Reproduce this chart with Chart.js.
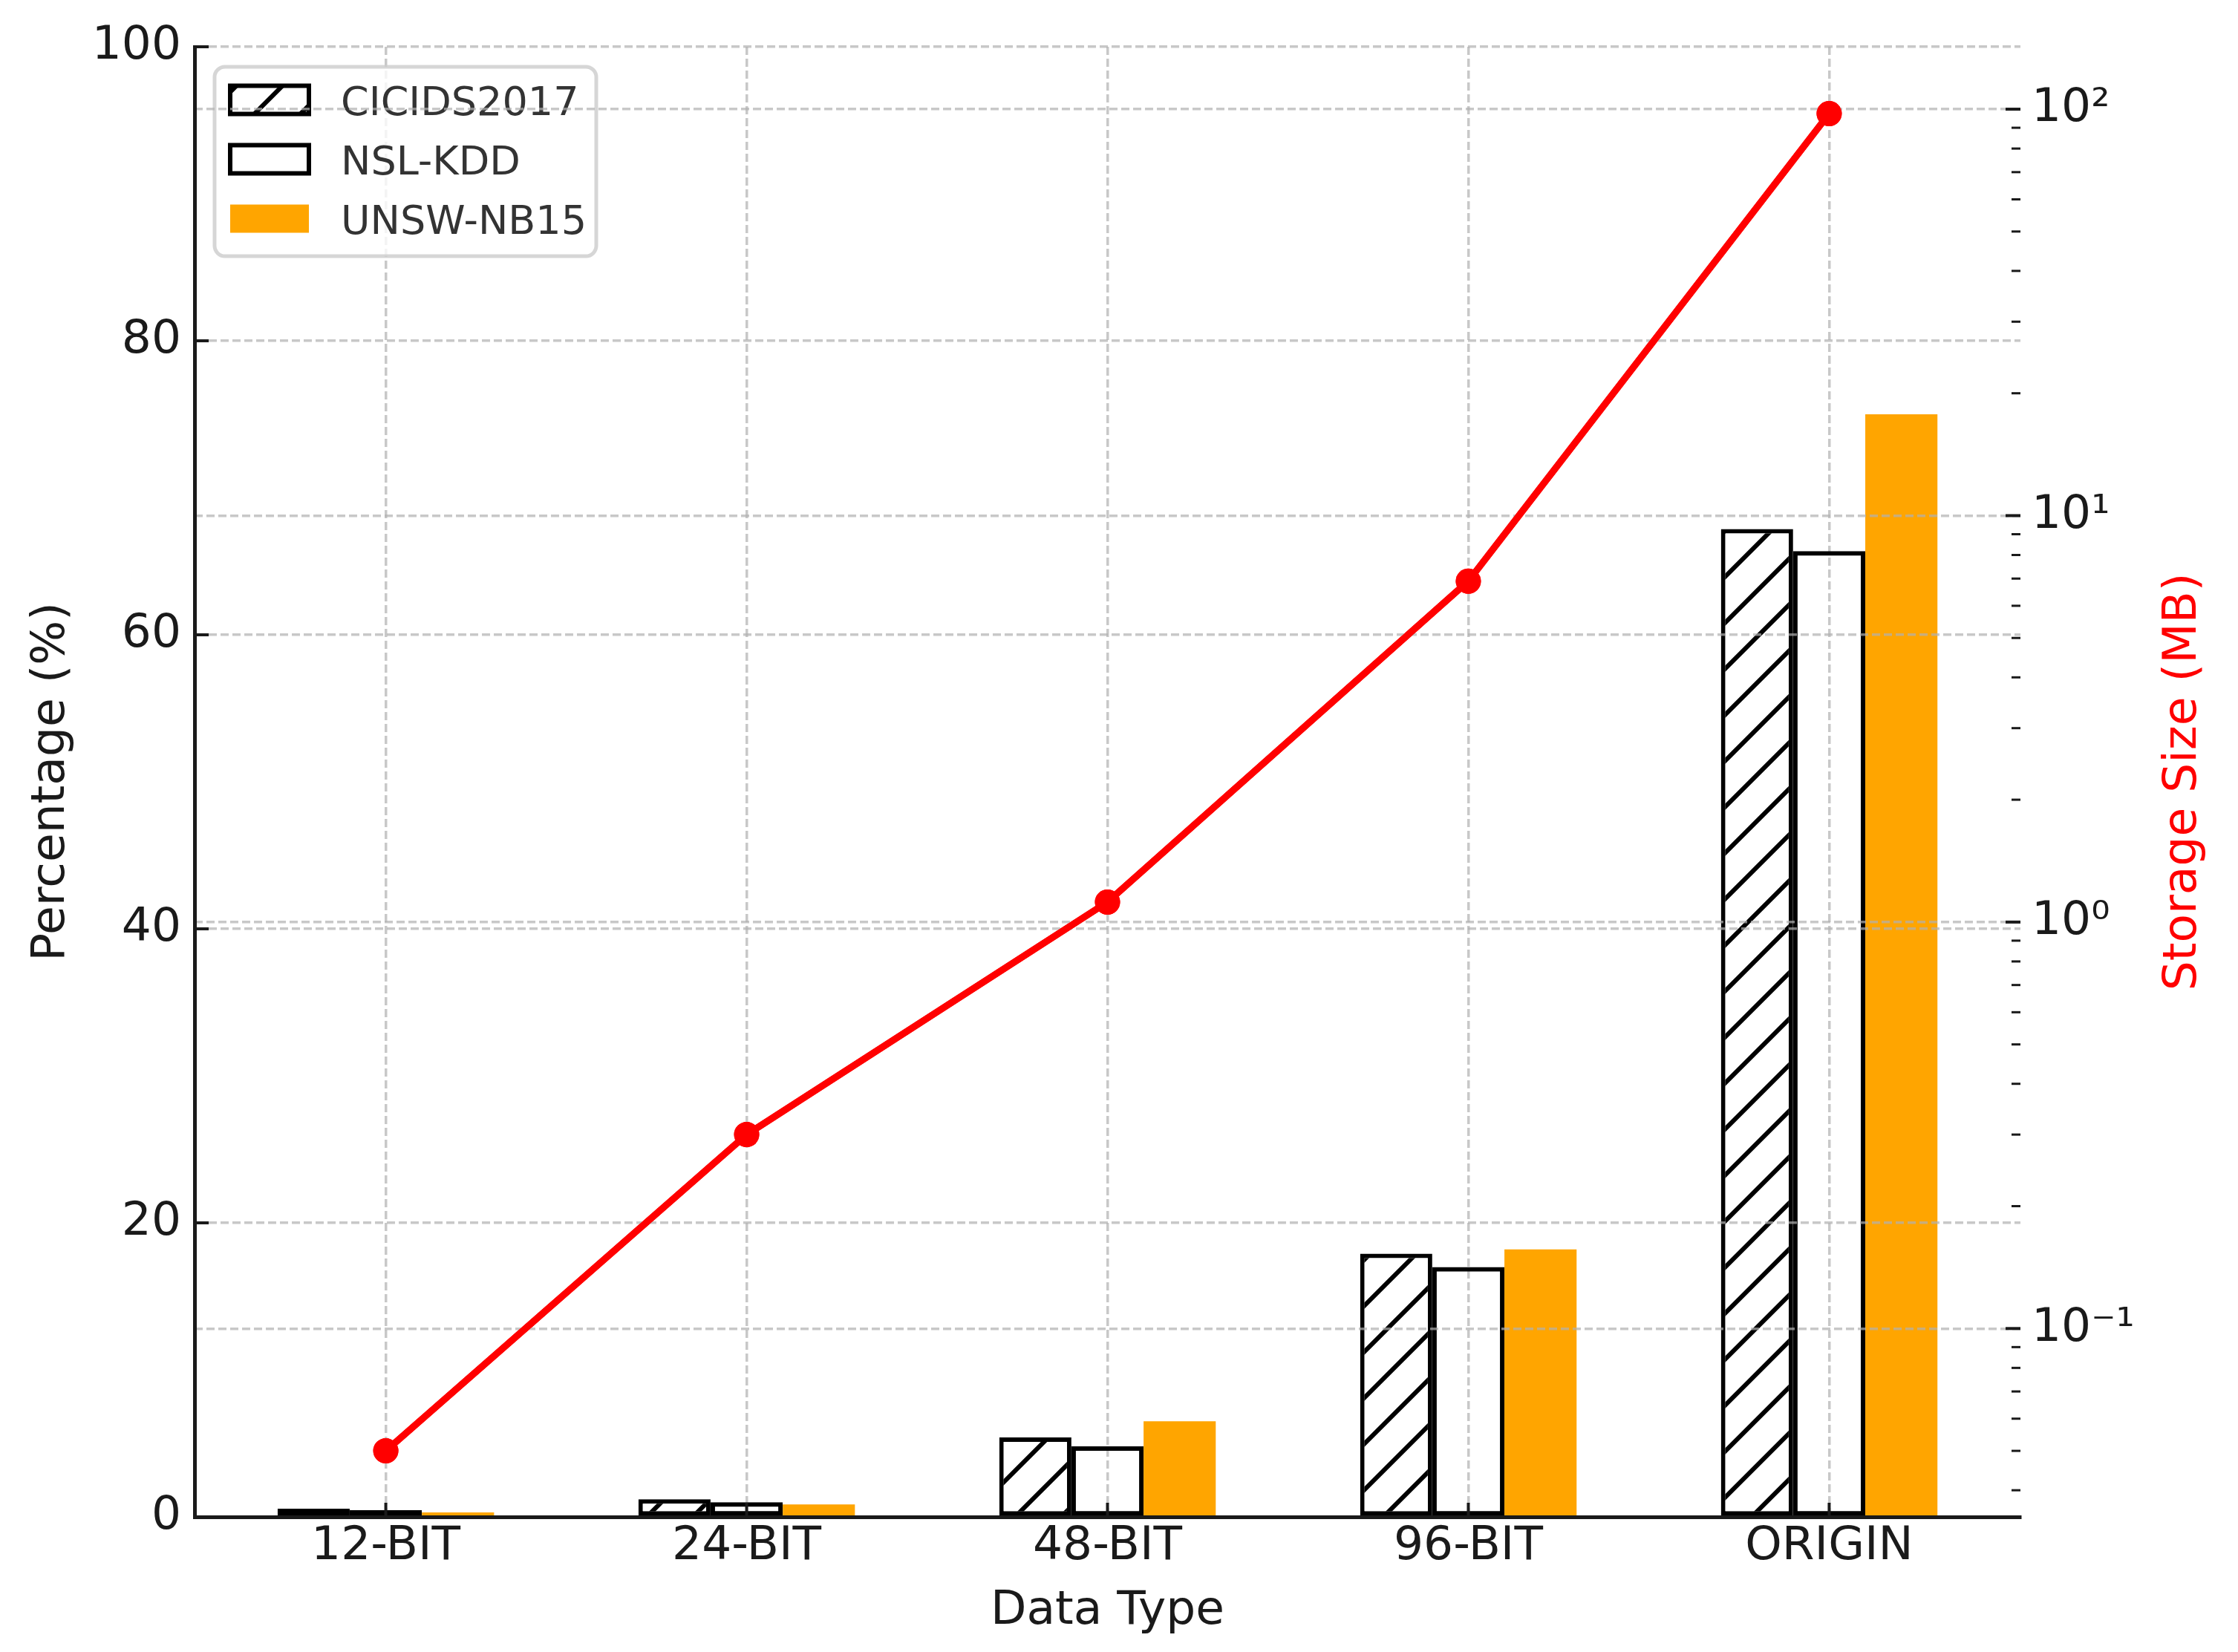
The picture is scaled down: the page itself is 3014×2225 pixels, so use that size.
<!DOCTYPE html>
<html>
<head>
<meta charset="utf-8">
<title>Percentage and storage size by data type</title>
<script src="https://cdn.jsdelivr.net/npm/chart.js"></script>
<style>
  html, body { margin: 0; padding: 0; background: #ffffff; }
  #wrap { width: 3014px; height: 2225px; }
</style>
</head>
<body>
<div id="wrap"><canvas id="chart" width="3014" height="2225"></canvas></div>
<script>
// ── Data ──
const categories = ['12-BIT', '24-BIT', '48-BIT', '96-BIT', 'ORIGIN'];
const seriesNames = ['CICIDS2017', 'NSL-KDD', 'UNSW-NB15'];
const cicids2017 = [0.55, 1.2, 5.4, 17.9, 67.2];
const nslKdd = [0.45, 1.0, 4.8, 17.0, 65.7];
const unswNb15 = [0.3, 0.85, 6.5, 18.2, 75.0];
const storageMb = [0.05, 0.3, 1.12, 6.9, 97.5];

const storageMajorTicks = [0.1, 1, 10, 100];
const storageTickLabels = ['10\u207B\u00B9', '10\u2070', '10\u00B9', '10\u00B2'];
const storageMinorTicks = [0.04, 0.05, 0.06, 0.07, 0.08, 0.09,
  0.2, 0.3, 0.4, 0.5, 0.6, 0.7, 0.8, 0.9,
  2, 3, 4, 5, 6, 7, 8, 9,
  20, 30, 40, 50, 60, 70, 80, 90];

// ── Style ──
const FONT = "'DejaVu Sans', 'Liberation Sans', sans-serif";
const INK = '#1a1a1a';
const ORANGE = '#ffa500';
const RED = '#ff0000';
const GRID = 'rgba(176,176,176,0.7)';
const DASH = [11, 5];

Chart.defaults.font.family = FONT;
Chart.defaults.color = INK;

// hatch "/" pattern for CICIDS2017
function makeHatch() {
  const s = 62;
  const c = document.createElement('canvas');
  c.width = s; c.height = s;
  const g = c.getContext('2d');
  g.fillStyle = '#ffffff';
  g.fillRect(0, 0, s, s);
  g.strokeStyle = '#000000';
  g.lineWidth = 6;
  g.beginPath();
  g.moveTo(-s, s); g.lineTo(s, -s);
  g.moveTo(0, s); g.lineTo(s, 0);
  g.moveTo(0, 2 * s); g.lineTo(2 * s, 0);
  g.stroke();
  return g.createPattern(c, 'repeat');
}
const hatch = makeHatch();

const toPoints = arr => arr.map((v, i) => ({ x: i, y: v }));

// ── Overlay: legend, inward ticks, right title, line on top ──
function drawLegend(chart) {
  const ctx = chart.ctx;
  ctx.save();
  const bx = 289, by = 90, bw = 514, bh = 255, r = 14;
  ctx.beginPath();
  ctx.roundRect(bx, by, bw, bh, r);
  ctx.fillStyle = 'rgba(255,255,255,0.8)';
  ctx.fill();
  ctx.lineWidth = 5;
  ctx.strokeStyle = 'rgba(204,204,204,0.8)';
  ctx.stroke();

  ctx.font = '54px ' + FONT;
  ctx.textBaseline = 'alphabetic';
  ctx.textAlign = 'left';
  chart.data.datasets.slice(0, 3).forEach((ds, i) => {
    const cy = 134.5 + i * 80;
    const hx = 310, hw = 106, hh = 38;
    ctx.fillStyle = ds.backgroundColor;
    ctx.fillRect(hx, cy - hh / 2, hw, hh);
    if (ds.borderWidth) {
      ctx.lineWidth = 6;
      ctx.strokeStyle = ds.borderColor;
      ctx.strokeRect(hx, cy - hh / 2, hw, hh);
    }
    ctx.fillStyle = '#333333';
    ctx.fillText(ds.label, 459, cy + 20);
  });
  ctx.restore();
}

function drawInwardTicks(chart) {
  const ctx = chart.ctx;
  const { x, y, y2 } = chart.scales;
  const a = chart.chartArea;
  ctx.save();
  ctx.strokeStyle = INK;
  ctx.lineWidth = 4;
  ctx.beginPath();
  y.ticks.forEach(t => {
    const py = y.getPixelForValue(t.value);
    ctx.moveTo(a.left, py); ctx.lineTo(a.left + 19, py);
  });
  x.ticks.forEach(t => {
    const px = x.getPixelForValue(t.value);
    ctx.moveTo(px, a.bottom); ctx.lineTo(px, a.bottom - 19);
  });
  ctx.stroke();
  y2.ticks.forEach(t => {
    const py = y2.getPixelForValue(t.value);
    ctx.lineWidth = t.major ? 4 : 3;
    ctx.beginPath();
    ctx.moveTo(a.right, py);
    ctx.lineTo(a.right - (t.major ? 20 : 12), py);
    ctx.stroke();
  });
  ctx.restore();
}

function drawRightTitle(chart) {
  const ctx = chart.ctx;
  const a = chart.chartArea;
  ctx.save();
  ctx.translate(2941, (a.top + a.bottom) / 2);
  ctx.rotate(-Math.PI / 2);
  ctx.font = '63px ' + FONT;
  ctx.fillStyle = RED;
  ctx.textAlign = 'center';
  ctx.textBaseline = 'middle';
  ctx.fillText('Storage Size (MB)', 0, 0);
  ctx.restore();
}

const overlay = {
  id: 'overlay',
  afterDatasetsDraw(chart) {
    drawLegend(chart);
  },
  afterDraw(chart) {
    chart.getDatasetMeta(3).controller.draw();
    drawInwardTicks(chart);
    drawRightTitle(chart);
  }
};

// ── Chart ──
new Chart(document.getElementById('chart'), {
  type: 'bar',
  data: {
    datasets: [
      {
        label: seriesNames[0],
        data: toPoints(cicids2017),
        backgroundColor: hatch,
        borderColor: '#000000',
        borderWidth: 6,
        borderSkipped: false,
        yAxisID: 'y'
      },
      {
        label: seriesNames[1],
        data: toPoints(nslKdd),
        backgroundColor: 'rgba(255,255,255,0)',
        borderColor: '#000000',
        borderWidth: 6,
        borderSkipped: false,
        yAxisID: 'y'
      },
      {
        label: seriesNames[2],
        data: toPoints(unswNb15),
        backgroundColor: ORANGE,
        borderWidth: 0,
        yAxisID: 'y'
      },
      {
        type: 'line',
        label: 'Storage Size (MB)',
        data: toPoints(storageMb),
        borderColor: RED,
        backgroundColor: RED,
        borderWidth: 9,
        pointRadius: 17,
        pointBorderWidth: 0,
        pointBackgroundColor: RED,
        tension: 0,
        fill: false,
        yAxisID: 'y2'
      }
    ]
  },
  options: {
    responsive: false,
    animation: false,
    devicePixelRatio: 1,
    layout: { padding: { top: 63, left: 0, right: 0, bottom: 0 } },
    datasets: { bar: { categoryPercentage: 0.6, barPercentage: 1.0 } },
    plugins: {
      legend: { display: false },
      tooltip: { enabled: false }
    },
    scales: {
      x: {
        type: 'linear',
        min: -0.53,
        max: 4.53,
        bounds: 'data',
        offset: false,
        afterBuildTicks: s => { s.ticks = categories.map((c, i) => ({ value: i })); },
        afterFit: s => { s.height = 182; },
        ticks: {
          autoSkip: false,
          maxRotation: 0,
          padding: 3,
          font: { size: 63 },
          color: INK,
          callback: v => categories[v]
        },
        grid: { offset: false, color: GRID, lineWidth: 3.5, drawTicks: false, z: -1 },
        border: { display: true, color: INK, width: 5, dash: DASH, z: 2 },
        title: {
          display: true,
          text: 'Data Type',
          font: { size: 63 },
          color: INK,
          padding: { top: 0, bottom: 17 }
        }
      },
      y: {
        type: 'linear',
        position: 'left',
        min: 0,
        max: 100,
        bounds: 'data',
        afterFit: s => { s.width = 262; },
        ticks: { stepSize: 20, padding: 18, font: { size: 63 }, color: INK },
        grid: { color: GRID, lineWidth: 3.5, drawTicks: false, z: 1 },
        border: { display: true, color: INK, width: 5, dash: DASH, z: 2 },
        title: {
          display: true,
          text: 'Percentage (%)',
          font: { size: 63 },
          color: INK,
          padding: { top: 32, bottom: 0 }
        }
      },
      y2: {
        type: 'logarithmic',
        position: 'right',
        min: 0.0344,
        max: 142.4,
        bounds: 'data',
        afterFit: s => { s.width = 293; },
        afterBuildTicks: s => {
          const major = storageMajorTicks.map(v => ({ value: v, major: true }));
          const minor = storageMinorTicks.map(v => ({ value: v, major: false }));
          s.ticks = major.concat(minor).sort((p, q) => p.value - q.value);
        },
        ticks: {
          autoSkip: false,
          padding: 15,
          font: { size: 63 },
          color: INK,
          callback: function (value) {
            const i = storageMajorTicks.indexOf(value);
            return i >= 0 ? storageTickLabels[i] : '';
          }
        },
        grid: {
          color: c => (c.tick && c.tick.major ? GRID : 'rgba(0,0,0,0)'),
          lineWidth: 3.5,
          drawTicks: false,
          drawOnChartArea: true,
          z: 1
        },
        border: { display: false, dash: DASH }
      }
    }
  },
  plugins: [overlay]
});
</script>
</body>
</html>
